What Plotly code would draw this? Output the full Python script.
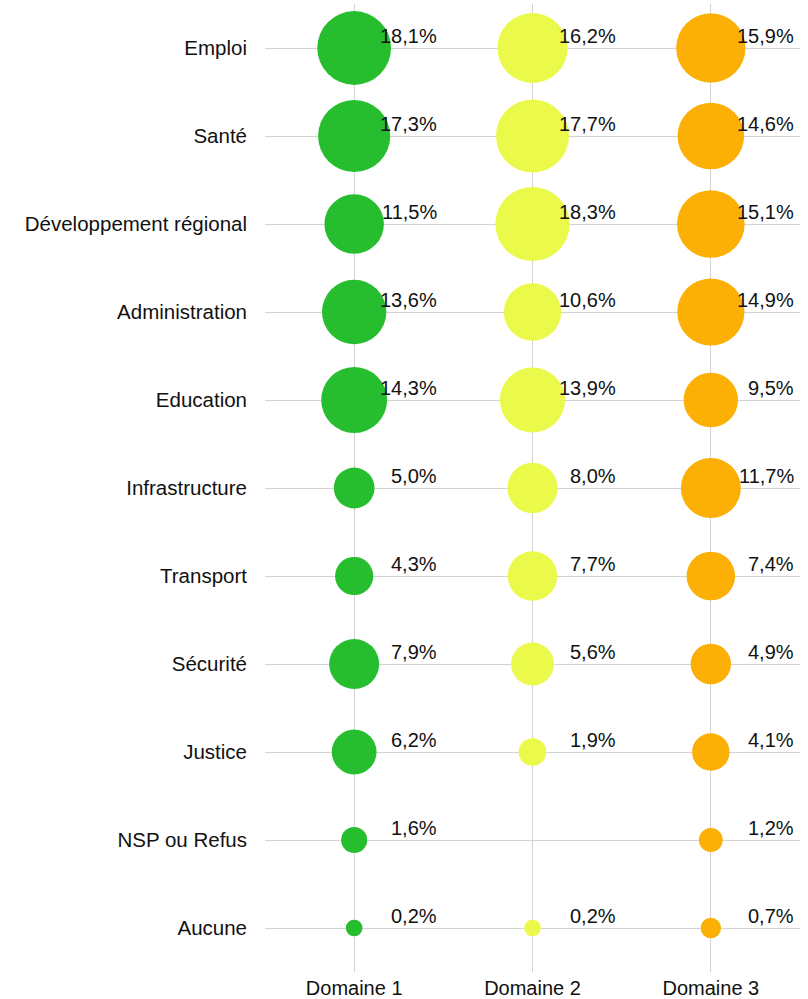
import plotly.graph_objects as go
import math

categories = ["Emploi", "Santé", "Développement régional", "Administration", "Education",
              "Infrastructure", "Transport", "Sécurité", "Justice", "NSP ou Refus", "Aucune"]
domains = ["Domaine 1", "Domaine 2", "Domaine 3"]

domaine1 = [18.1, 17.3, 11.5, 13.6, 14.3, 5.0, 4.3, 7.9, 6.2, 1.6, 0.2]
domaine2 = [16.2, 17.7, 18.3, 10.6, 13.9, 8.0, 7.7, 5.6, 1.9, None, 0.2]
domaine3 = [15.9, 14.6, 15.1, 14.9, 9.5, 11.7, 7.4, 4.9, 4.1, 1.2, 0.7]

series = [domaine1, domaine2, domaine3]
colors = ["#26BE2E", "#EBF94A", "#FCB005"]

def diam(v):
    return 1.04 * math.sqrt(267 * v + 202)

fig = go.Figure()
annotations = []
for dom, vals, col in zip(domains, series, colors):
    xs, ys, sz = [], [], []
    for cat, v in zip(categories, vals):
        if v is None:
            continue
        xs.append(dom)
        ys.append(cat)
        sz.append(diam(v))
        annotations.append(dict(
            x=dom, y=cat, xref="x", yref="y",
            text=f"{v:.1f}".replace(".", ",") + "%",
            showarrow=False, xanchor="right", yanchor="middle",
            xshift=85, yshift=12,
            font=dict(family="Liberation Sans, Arial, sans-serif", size=20, color="#111111"),
        ))
    fig.add_trace(go.Scatter(
        x=xs, y=ys, mode="markers",
        marker=dict(size=sz, sizemode="diameter", color=col, line=dict(width=0), opacity=1),
        showlegend=False, hoverinfo="skip",
    ))

fig.update_layout(
    width=808, height=999,
    margin=dict(l=265, r=8, t=4, b=27, autoexpand=False),
    plot_bgcolor="white", paper_bgcolor="white",
    font=dict(family="Liberation Sans, Arial, sans-serif", size=20, color="#111111"),
    annotations=annotations,
    showlegend=False,
)
fig.update_xaxes(
    type="category", categoryorder="array", categoryarray=domains,
    range=[-0.5, 2.5], showgrid=True, gridcolor="#D3D3D3", gridwidth=1,
    zeroline=False, showline=False, ticks="", ticklabelstandoff=2,
    tickfont=dict(size=20), automargin=False,
)
fig.update_yaxes(
    type="category", categoryorder="array", categoryarray=categories,
    range=[10.5, -0.5], showgrid=True, gridcolor="#D3D3D3", gridwidth=1,
    zeroline=False, showline=False, ticks="", ticklabelstandoff=17,
    tickfont=dict(size=20.5), automargin=False,
)

fig.write_html(
    "out.html",
    config={"displayModeBar": False},
    post_script="document.body.style.margin='0';document.body.style.overflow='hidden';",
)
